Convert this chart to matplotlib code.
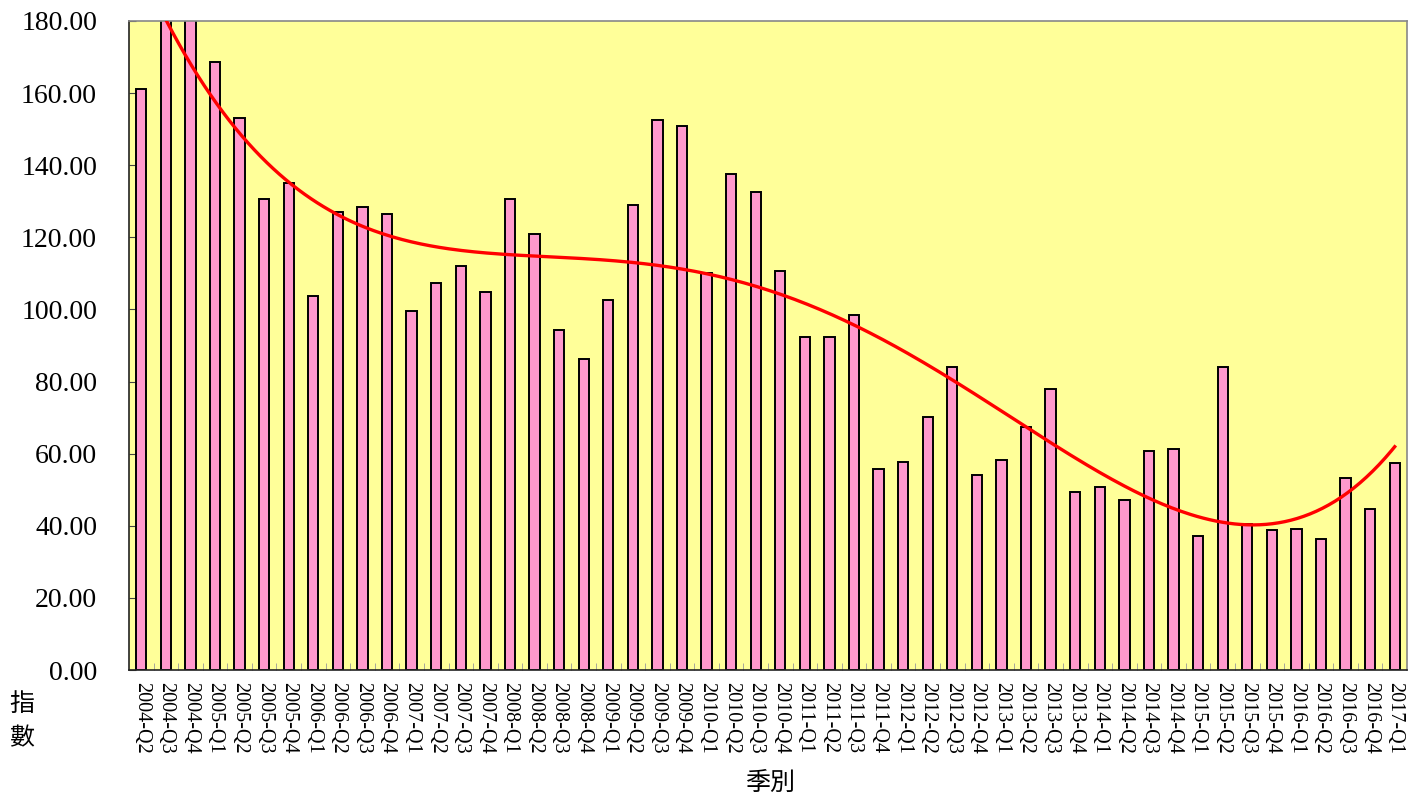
import numpy as np
import matplotlib
matplotlib.use("Agg")
import matplotlib.pyplot as plt

quarters = ["2004-Q2", "2004-Q3", "2004-Q4",
            "2005-Q1", "2005-Q2", "2005-Q3", "2005-Q4",
            "2006-Q1", "2006-Q2", "2006-Q3", "2006-Q4",
            "2007-Q1", "2007-Q2", "2007-Q3", "2007-Q4",
            "2008-Q1", "2008-Q2", "2008-Q3", "2008-Q4",
            "2009-Q1", "2009-Q2", "2009-Q3", "2009-Q4",
            "2010-Q1", "2010-Q2", "2010-Q3", "2010-Q4",
            "2011-Q1", "2011-Q2", "2011-Q3", "2011-Q4",
            "2012-Q1", "2012-Q2", "2012-Q3", "2012-Q4",
            "2013-Q1", "2013-Q2", "2013-Q3", "2013-Q4",
            "2014-Q1", "2014-Q2", "2014-Q3", "2014-Q4",
            "2015-Q1", "2015-Q2", "2015-Q3", "2015-Q4",
            "2016-Q1", "2016-Q2", "2016-Q3", "2016-Q4",
            "2017-Q1"]

index_values = [161.1, 203.0, 198.0,
                168.6, 153.1, 130.6, 135.1,
                103.7, 127.0, 128.3, 126.4,
                99.6, 107.4, 112.1, 104.8,
                130.7, 120.8, 94.4, 86.2,
                102.5, 128.9, 152.6, 150.9,
                110.2, 137.5, 132.7, 110.6,
                92.4, 92.3, 98.5, 55.8,
                57.8, 70.2, 84.0, 54.1,
                58.2, 67.5, 77.8, 49.3,
                50.8, 47.1, 60.7, 61.2,
                37.2, 84.1, 40.6, 38.9,
                39.1, 36.3, 53.2, 44.7,
                57.3]

y_ticks = [0, 20, 40, 60, 80, 100, 120, 140, 160, 180]

trend_order = 4

plt.rcParams['font.family'] = ['Liberation Serif', 'Noto Sans CJK TC']

fig = plt.figure(figsize=(14.17, 7.99), dpi=100)
ax = fig.add_axes([129/1417, 1 - 670/799, (1407-129)/1417, (670-21)/799])
ax.set_facecolor('#FFFF99')

x = np.arange(1, len(index_values) + 1)
ax.bar(x, index_values, width=0.42, color='#FF99CC', edgecolor='black',
       linewidth=1.4, zorder=2)

# polynomial trend line fitted to the data
coef = np.polyfit(x, index_values, trend_order)
xs = np.linspace(1, len(index_values), 400)
ax.plot(xs, np.polyval(coef, xs), color='#FF0000', linewidth=2.4, zorder=4)

ax.set_xlim(0.5, len(index_values) + 0.5)
ax.set_ylim(0, 180)
ax.set_yticks(y_ticks)
ax.set_yticklabels([f"{v:.2f}" for v in y_ticks], fontsize=20)
ax.set_xticks(x)
ax.set_xticklabels(quarters, rotation=270, fontsize=14.5)
ax.tick_params(axis='x', length=0, pad=9)
ax.set_xticks(np.arange(1.5, len(index_values), 1), minor=True)
ax.tick_params(axis='x', which='minor', direction='in', length=5, color='#999999')
ax.tick_params(axis='y', direction='in', length=5, color='#444444', pad=23)

for s in ['top', 'right']:
    ax.spines[s].set_color('#888888')
    ax.spines[s].set_linewidth(1.2)
for s in ['left', 'bottom']:
    ax.spines[s].set_color('#222222')
    ax.spines[s].set_linewidth(1.2)

fig.text(22/1417, 1 - 704/799, '指', fontsize=18, family=['Noto Sans CJK TC'],
         ha='center', va='center')
fig.text(22/1417, 1 - 738/799, '數', fontsize=18, family=['Noto Sans CJK TC'],
         ha='center', va='center')
fig.text(770/1417, 1 - 783/799, '季別', fontsize=18, family=['Noto Sans CJK TC'],
         ha='center', va='center')

fig.savefig('out.png', dpi=100)
